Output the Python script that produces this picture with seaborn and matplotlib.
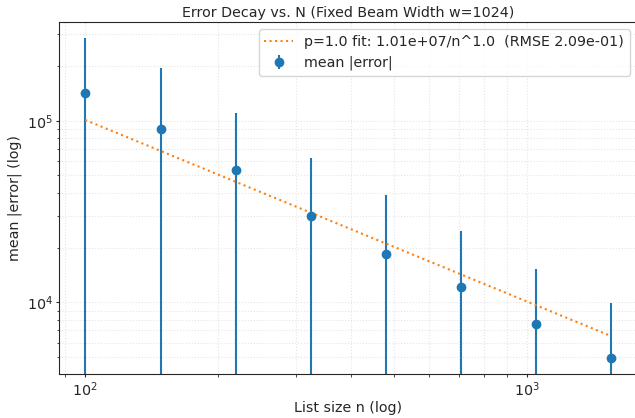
import numpy as np
import pandas as pd
import matplotlib
matplotlib.use('Agg')
import matplotlib.pyplot as plt
import seaborn as sns

# Data
n_vals = [100, 148, 219, 324, 479, 709, 1049, 1546]
mean_err = [142500, 90000, 53800, 30000, 18400, 12100, 7640, 4940]
std_err = [143100, 106000, 56900, 32700, 20700, 12700, 7700, 4960]
fit_coef = 1.01e7
fit_p = 1.0
fit_label = 'p=1.0 fit: 1.01e+07/n^1.0  (RMSE 2.09e-01)'

sns.set_style('ticks')
plt.rcParams['font.family'] = ['DejaVu Sans']
fs = 10.25

fig = plt.figure(figsize=(6.35, 4.18), dpi=100)
# axes runs slightly past the right edge, as in the reference
ax = fig.add_axes([0.0929, 0.1053, 0.9103, 0.8421])

ax.errorbar(n_vals, mean_err, yerr=std_err, fmt='o', color='C0',
            capsize=0, label='mean |error|')

fit_df = pd.DataFrame({'n': n_vals, 'fit': [fit_coef / n ** fit_p for n in n_vals]})
sns.lineplot(data=fit_df, x='n', y='fit', ax=ax, color='C1', linestyle=':',
             label=fit_label)

ax.set_xscale('log')
ax.set_yscale('log')
ax.grid(True, which='both', linestyle=':', linewidth=0.8, alpha=0.5)
ax.set_xlabel('List size n (log)', fontsize=fs, labelpad=2)
ax.set_ylabel('mean |error| (log)', fontsize=fs, labelpad=3.5)
ax.set_title('Error Decay vs. N (Fixed Beam Width w=1024)', fontsize=fs, pad=3.8)
ax.tick_params(which='major', labelsize=fs, length=2.5, pad=1.8)
ax.tick_params(which='minor', length=1.8)
ax.legend(loc='upper right', fontsize=fs)

plt.savefig('out.png')
plt.close()
